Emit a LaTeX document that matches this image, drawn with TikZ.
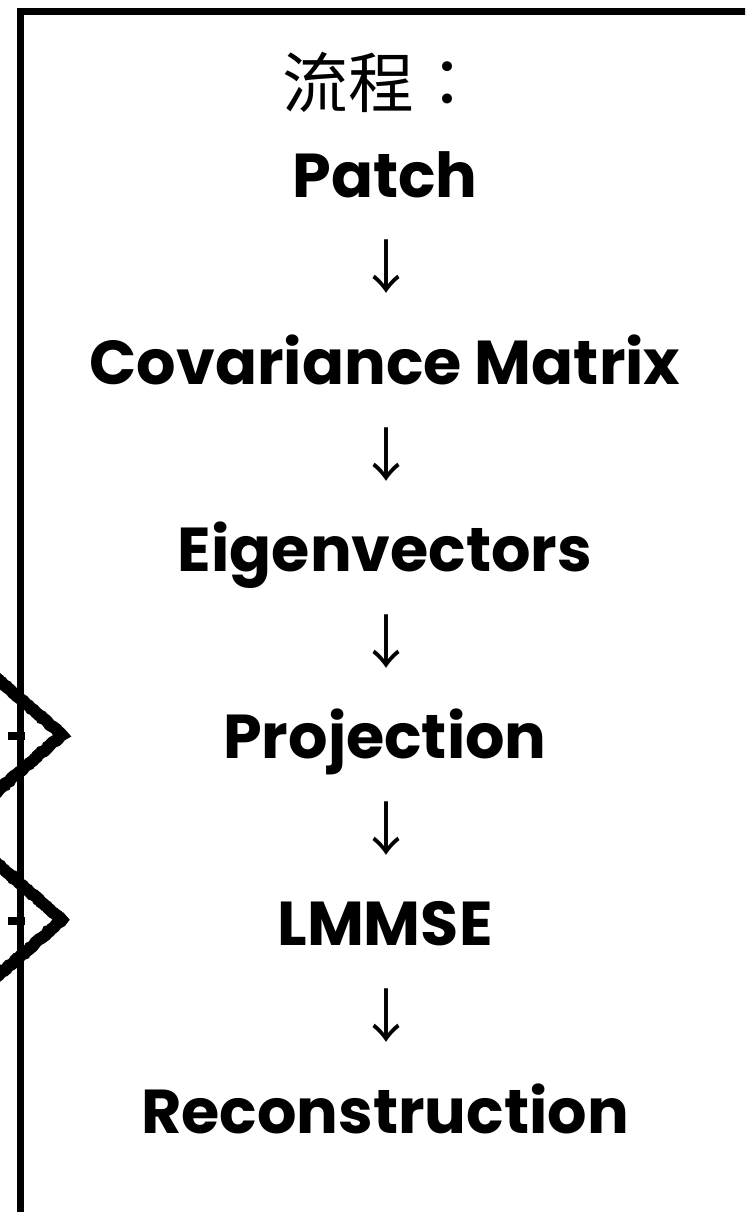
\documentclass[tikz,border=0pt]{standalone}
\usepackage{fontspec}
\setmainfont{Poppins}
\newfontfamily\cjk{Noto Sans CJK TC}
\usetikzlibrary{decorations.pathmorphing}
\tikzset{
  frameline/.style={line width=7pt},
  chevron/.style={line width=12pt, line join=miter,
    decorate, decoration={random steps, segment length=2pt, amplitude=0.7pt}},
  steptext/.style={font=\fontsize{62}{66}\selectfont\bfseries, anchor=base},
  downarrow/.style={font=\cjk\fontsize{58}{62}\selectfont}
}

\begin{document}
\begin{tikzpicture}[x=1pt,y=-1pt]
\useasboundingbox (0,0) rectangle (745,1212);
\begin{scope}
    \clip (0,0) rectangle (745,1212);
    \draw[frameline] (20,11.5) rectangle (800,1260);
    % hand drawn pointers on the left
    \draw[chevron] (-6,676) -- (62,735) -- (-6,794);
    \draw[chevron] (-6,861) -- (62,920) -- (-6,979);
    \draw[line width=8pt] (8,736) -- (25,736);
    \draw[line width=8pt] (8,921) -- (25,921);
\end{scope}
\node[font=\cjk\fontsize{66}{70}\selectfont] (title) at (381,82) {流程：};
\foreach \txt [count=\i] in {Patch,Covariance Matrix,Eigenvectors,Projection,LMMSE,Reconstruction}
    {
        \node[steptext] (step\i) at (385,{197+187.2*(\i-1)}) {\txt};
    }
\foreach \i in {1,...,5}
    {
        \node[downarrow] (arrow\i) at (386,{267+187.2*(\i-1)}) {↓};
    }
\end{tikzpicture}
\end{document}
